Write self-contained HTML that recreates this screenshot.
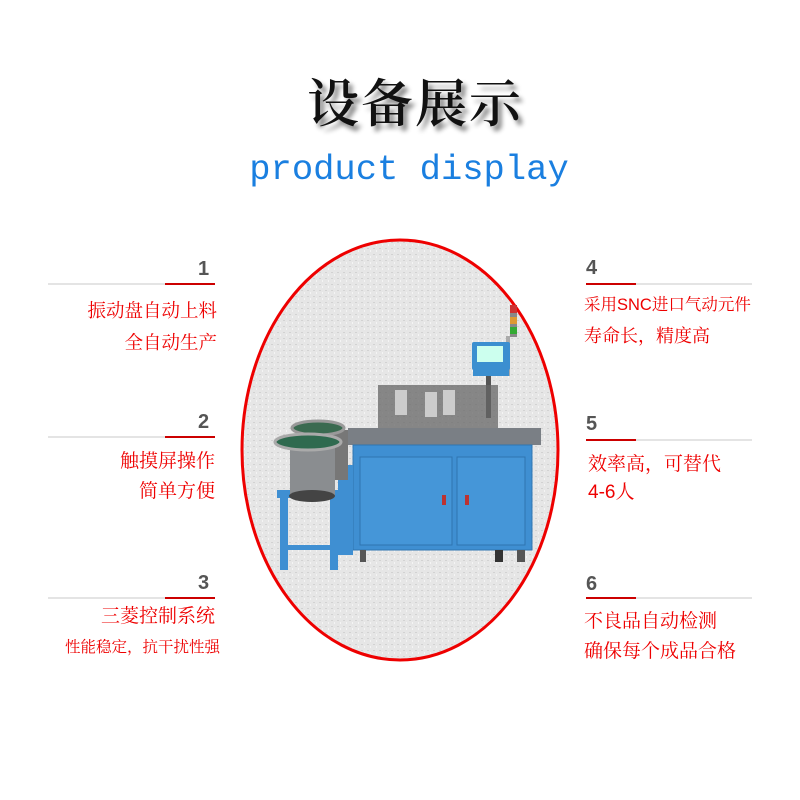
<!DOCTYPE html>
<html><head><meta charset="utf-8"><style>
body{margin:0;width:800px;height:800px;background:#fff;position:relative;overflow:hidden;font-family:"Liberation Sans","Noto Sans CJK SC",sans-serif}
.a{position:absolute}
.t{color:#e00;font-size:19px;line-height:20px;white-space:nowrap;font-family:"Liberation Sans","Noto Serif CJK SC",sans-serif}
.n{color:#555;font-size:20px;font-weight:bold}
</style></head><body>
<div class="a" style="left:0;width:830px;top:70px;text-align:center;font-family:'Noto Serif CJK SC',serif;font-weight:600;font-size:52px;line-height:60px;color:#111;letter-spacing:2px;text-shadow:4px 5px 5px #888">设备展示</div>
<div class="a" style="left:0;width:818px;top:148px;text-align:center;font-family:'Liberation Mono',monospace;font-size:35.5px;line-height:44px;color:#1a7fe0">product display</div>

<svg class="a" style="left:0;top:0" width="800" height="800">
<defs><pattern id="p" width="6" height="6" patternUnits="userSpaceOnUse"><rect width="6" height="6" fill="#e6e6e6"/><rect x="1" y="2" width="2" height="1" fill="#d2d2d2"/><rect x="4" y="4" width="1" height="2" fill="#f4f4f4"/></pattern></defs>
<ellipse cx="400" cy="450" rx="158" ry="210" fill="url(#p)" stroke="#e00" stroke-width="3"/>
<g stroke-width="2">
<line x1="48" y1="284" x2="165" y2="284" stroke="#e4e4e4"/><line x1="165" y1="284" x2="215" y2="284" stroke="#c00"/>
<line x1="48" y1="437" x2="165" y2="437" stroke="#e4e4e4"/><line x1="165" y1="437" x2="215" y2="437" stroke="#c00"/>
<line x1="48" y1="598" x2="165" y2="598" stroke="#e4e4e4"/><line x1="165" y1="598" x2="215" y2="598" stroke="#c00"/>
<line x1="636" y1="284" x2="752" y2="284" stroke="#e4e4e4"/><line x1="586" y1="284" x2="636" y2="284" stroke="#c00"/>
<line x1="636" y1="440" x2="752" y2="440" stroke="#e4e4e4"/><line x1="586" y1="440" x2="636" y2="440" stroke="#c00"/>
<line x1="636" y1="598" x2="752" y2="598" stroke="#e4e4e4"/><line x1="586" y1="598" x2="636" y2="598" stroke="#c00"/>
</g>
<rect x="486" y="368" width="5" height="50" fill="#555"/>
<rect x="510" y="305" width="7" height="32" fill="#888"/><rect x="510" y="305" width="7" height="8" fill="#c33"/><rect x="510" y="317" width="7" height="7" fill="#d93"/><rect x="510" y="327" width="7" height="7" fill="#3a3"/>
<rect x="506" y="336" width="4" height="40" fill="#aaa"/>
<rect x="472" y="342" width="38" height="28" fill="#3b8fd0" rx="2"/><rect x="477" y="346" width="26" height="16" fill="#cfe"/>
<rect x="473" y="366" width="36" height="10" fill="#3b8fd0"/>
<rect x="378" y="385" width="120" height="45" fill="#666" opacity=".75"/>
<rect x="395" y="390" width="12" height="25" fill="#ccc"/><rect x="425" y="392" width="12" height="25" fill="#ccc"/><rect x="443" y="390" width="12" height="25" fill="#ccc"/>
<rect x="348" y="428" width="193" height="17" fill="#7a7f85"/>
<rect x="353" y="445" width="179" height="105" fill="#3f8fd2" stroke="#2f74b0"/>
<rect x="360" y="457" width="92" height="88" fill="#4596d8" stroke="#2f74b0"/>
<rect x="457" y="457" width="68" height="88" fill="#4596d8" stroke="#2f74b0"/>
<rect x="442" y="495" width="4" height="10" fill="#b33"/><rect x="465" y="495" width="4" height="10" fill="#b33"/>
<rect x="360" y="550" width="6" height="12" fill="#555"/><rect x="495" y="550" width="8" height="12" fill="#333"/><rect x="517" y="550" width="8" height="12" fill="#555"/>
<rect x="277" y="490" width="63" height="8" fill="#3f8fd2"/>
<rect x="280" y="498" width="8" height="72" fill="#3f8fd2"/><rect x="330" y="498" width="8" height="72" fill="#3f8fd2"/>
<rect x="280" y="545" width="58" height="5" fill="#3f8fd2"/>
<rect x="338" y="465" width="15" height="90" fill="#3f8fd2"/>
<rect x="318" y="430" width="30" height="50" fill="#777"/>
<ellipse cx="318" cy="428" rx="26" ry="7" fill="#3a6a50" stroke="#999" stroke-width="3"/>
<rect x="290" y="445" width="45" height="50" fill="#8a8d90"/>
<ellipse cx="312" cy="496" rx="23" ry="6" fill="#444"/>
<ellipse cx="308" cy="442" rx="33" ry="8" fill="#2f6a4f" stroke="#aaa" stroke-width="3"/>
</svg>

<div class="a n" style="left:198px;top:258px">1</div>
<div class="a n" style="left:198px;top:411px">2</div>
<div class="a n" style="left:198px;top:572px">3</div>
<div class="a n" style="left:586px;top:257px">4</div>
<div class="a n" style="left:586px;top:413px">5</div>
<div class="a n" style="left:586px;top:573px">6</div>

<div class="a t" style="right:583px;top:301px;text-align:right;font-size:18.5px">振动盘自动上料</div>
<div class="a t" style="right:583px;top:333px;text-align:right;font-size:18.5px">全自动生产</div>
<div class="a t" style="right:585px;top:452px;text-align:right">触摸屏操作</div>
<div class="a t" style="right:585px;top:482px;text-align:right">简单方便</div>
<div class="a t" style="right:585px;top:607px;text-align:right">三菱控制系统</div>
<div class="a t" style="right:580px;top:638px;text-align:right;font-size:15.5px">性能稳定，抗干扰性强</div>

<div class="a t" style="left:584px;top:295px;font-size:16.5px">采用SNC进口气动元件</div>
<div class="a t" style="left:584px;top:326px;font-size:18px">寿命长，精度高</div>
<div class="a t" style="left:588px;top:455px">效率高，可替代</div>
<div class="a t" style="left:588px;top:483px">4-6人</div>
<div class="a t" style="left:584px;top:612px">不良品自动检测</div>
<div class="a t" style="left:584px;top:642px">确保每个成品合格</div>
</body></html>
